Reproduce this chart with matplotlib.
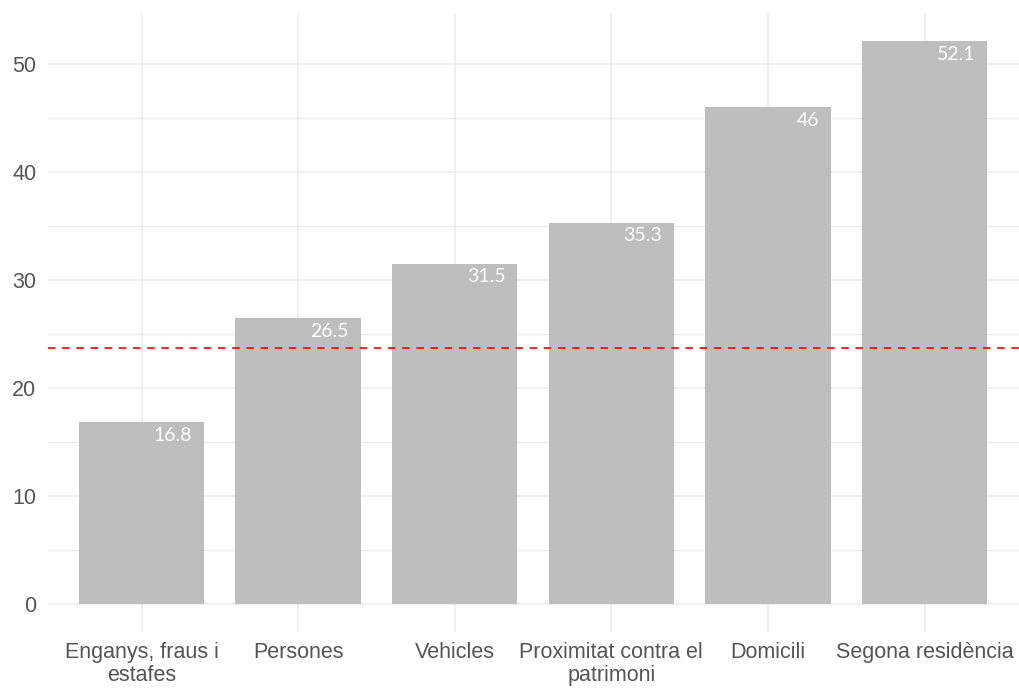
import matplotlib.pyplot as plt
from matplotlib.ticker import MultipleLocator

categories = ["Enganys, fraus i\nestafes", "Persones", "Vehicles",
              "Proximitat contra el\npatrimoni", "Domicili", "Segona residència"]
values = [16.8, 26.5, 31.5, 35.3, 46, 52.1]
labels = ["16.8", "26.5", "31.5", "35.3", "46", "52.1"]
reference = 23.7
yticks = [0, 10, 20, 30, 40, 50]


def main():
    fig = plt.figure(figsize=(10.2, 6.88), dpi=100)
    ax = fig.add_axes([0.0466, 0.0814, 0.952, 0.8997])

    x = list(range(len(categories)))
    ax.bar(x, values, width=0.8, color="#BEBEBE", zorder=2)

    for i, v in enumerate(values):
        ax.annotate(labels[i], xy=(i + 0.4, v), xytext=(-8.5, -3.5),
                    textcoords="offset points", ha="right", va="top",
                    color="white", fontsize=14, family="Lato", zorder=3)

    ax.axhline(reference, color="red", linestyle=(0, (4.5, 4)), linewidth=1.2, zorder=4)

    ax.set_xlim(-0.6, len(categories) - 0.4)
    ax.set_ylim(-0.05 * max(values), 1.05 * max(values))
    ax.set_xticks(x)
    ax.set_xticklabels(categories, linespacing=1.12)
    ax.set_yticks(yticks)
    ax.yaxis.set_minor_locator(MultipleLocator(5))

    ax.grid(which="major", color="#EBEBEB", linewidth=1.1, zorder=0)
    ax.grid(which="minor", axis="y", color="#EBEBEB", linewidth=0.9, zorder=0)
    ax.set_axisbelow(True)
    for s in ax.spines.values():
        s.set_visible(False)
    ax.tick_params(which="both", length=0)
    ax.tick_params(axis="x", pad=7, labelsize=15.5, labelcolor="#555555")
    ax.tick_params(axis="y", pad=8, labelsize=15.5, labelcolor="#555555")
    for t in ax.get_xticklabels() + ax.get_yticklabels():
        t.set_family("Liberation Sans")

    fig.savefig("out.png", dpi=100, facecolor="white")


if __name__ == '__main__':
    main()
